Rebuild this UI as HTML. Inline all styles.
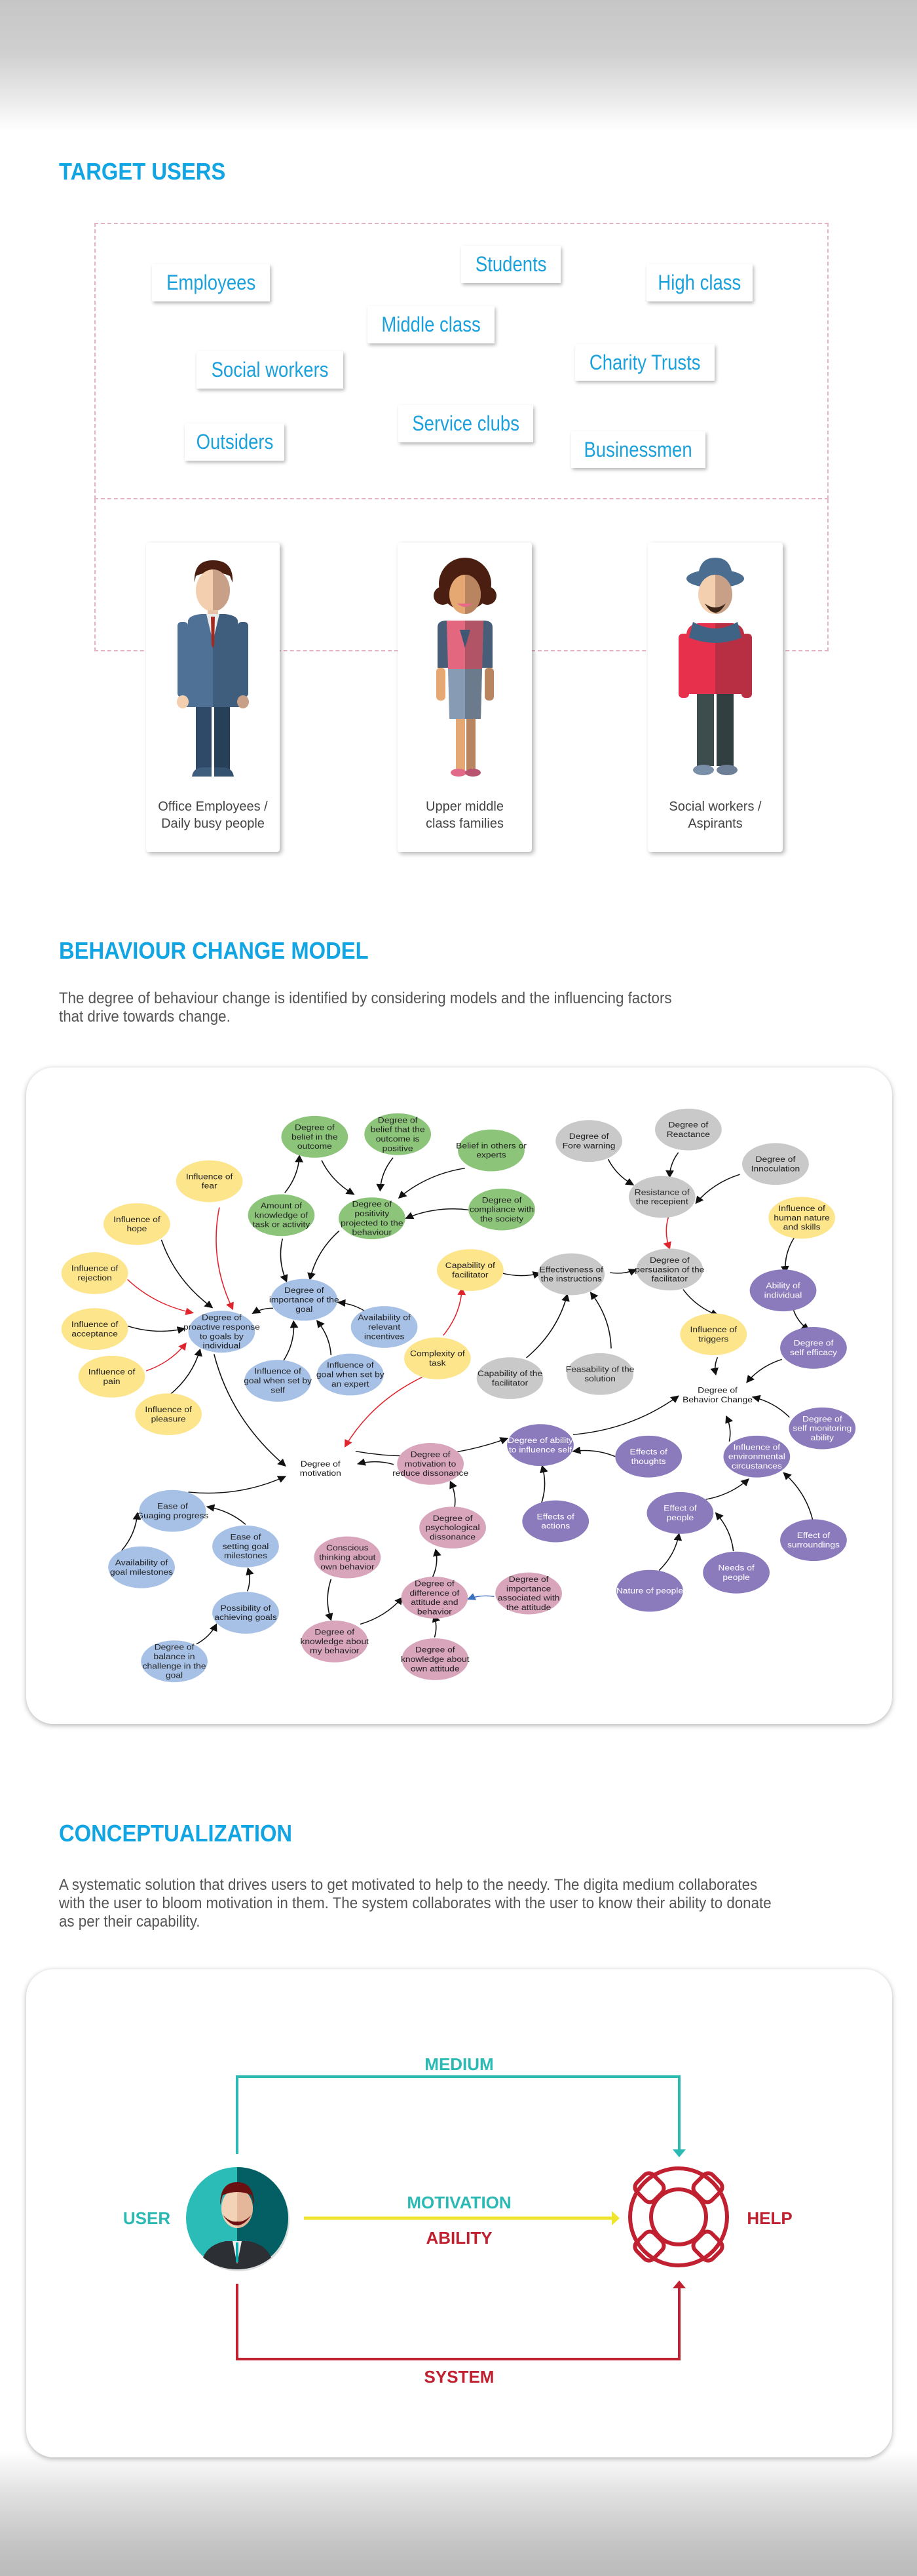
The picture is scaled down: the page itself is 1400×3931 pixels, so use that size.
<!DOCTYPE html>
<html><head><meta charset="utf-8"><title>Target users, behaviour change model and conceptualization</title>
<style>
*{box-sizing:border-box;margin:0;padding:0}
body{width:1400px;height:3931px;position:relative;background:#fff;font-family:"Liberation Sans",sans-serif;overflow:hidden}
.abs{position:absolute}
.h{position:absolute;left:90px;color:#12a5e4;font-weight:bold;font-size:36px;transform:scaleX(0.91);transform-origin:left center;white-space:nowrap;line-height:40px}
.para{position:absolute;left:90px;color:#555;font-size:24px;line-height:28px;transform:scaleX(0.93);transform-origin:left top;white-space:nowrap}
.tag{position:absolute;background:#fff;box-shadow:2px 3px 5px rgba(0,0,0,.28);color:#1ba1dc;font-size:32px;display:flex;align-items:center;justify-content:center;white-space:nowrap}
.tag span{transform:scaleX(.86);display:inline-block}
.card{position:absolute;background:#fff;box-shadow:3px 3px 7px rgba(0,0,0,.3);border-radius:4px}
.cap{position:absolute;left:0;right:0;text-align:center;color:#444;font-size:20px;line-height:26px}
.big{position:absolute;left:40px;width:1322px;background:#fff;border-radius:42px;box-shadow:0 2px 8px rgba(0,0,0,.3)}
</style></head>
<body>
<div class="abs" style="left:0;top:0;width:1400px;height:200px;background:linear-gradient(180deg,#c6c6c6 0%,#cfcfcf 40%,#e6e6e6 70%,#fff 100%)"></div>
<div class="abs" style="left:0;top:3740px;width:1400px;height:191px;background:linear-gradient(180deg,#fff 0%,#e0e0e0 35%,#c4c4c4 75%,#bbb 100%)"></div>

<div class="h" style="top:242px">TARGET USERS</div>
<div class="abs" style="left:144px;top:340px;width:1121px;height:422px;border:2px dashed #e3b4c6"></div>
<div class="abs" style="left:144px;top:762px;width:2px;height:232px;border-left:2px dashed #e3b4c6"></div>
<div class="abs" style="left:1263px;top:762px;width:2px;height:232px;border-left:2px dashed #e3b4c6"></div>
<div class="abs" style="left:144px;top:992px;width:1121px;height:2px;border-top:2px dashed #e3b4c6"></div>

<div class="tag" style="left:232px;top:403px;width:180px;height:57px"><span>Employees</span></div>
<div class="tag" style="left:704px;top:375px;width:152px;height:57px"><span>Students</span></div>
<div class="tag" style="left:987px;top:403px;width:162px;height:57px"><span>High class</span></div>
<div class="tag" style="left:561px;top:467px;width:194px;height:57px"><span>Middle class</span></div>
<div class="tag" style="left:300px;top:536px;width:224px;height:57px"><span>Social workers</span></div>
<div class="tag" style="left:878px;top:525px;width:213px;height:56px"><span>Charity Trusts</span></div>
<div class="tag" style="left:608px;top:618px;width:206px;height:57px"><span>Service clubs</span></div>
<div class="tag" style="left:282px;top:646px;width:152px;height:57px"><span>Outsiders</span></div>
<div class="tag" style="left:872px;top:658px;width:205px;height:56px"><span>Businessmen</span></div>

<!-- persona cards -->
<div class="card" style="left:223px;top:828px;width:204px;height:472px">
<svg class="abs" style="left:42px;top:21px" width="120" height="340" viewBox="0 0 120 340">
<path d="M32 40 Q30 6 60 6 Q92 6 90 40 L86 30 Q60 18 34 30Z" fill="#4a1f12"/>
<ellipse cx="60" cy="52" rx="26" ry="32" fill="#f3cfb0"/><path d="M60 20 A26 32 0 0 1 60 84Z" fill="#c8a088"/>
<rect x="52" y="82" width="16" height="12" fill="#e8c2a4"/>
<path d="M22 98 Q24 90 42 88 L78 88 Q96 90 98 98 L104 230 L16 230Z" fill="#4f7196"/><path d="M60 88 L78 88 Q96 90 98 98 L104 230 L60 230Z" fill="#3f5d7c"/>
<path d="M50 88 L60 130 L70 88Z" fill="#e9e9e9"/><path d="M57 92 L63 92 L62 135 L60 140 L58 135Z" fill="#a3281d"/>
<rect x="6" y="100" width="16" height="115" rx="6" fill="#4f7196"/><rect x="98" y="100" width="16" height="115" rx="6" fill="#3f5d7c"/>
<ellipse cx="14" cy="222" rx="9" ry="10" fill="#f3cfb0"/><ellipse cx="106" cy="222" rx="9" ry="10" fill="#c8a088"/>
<rect x="34" y="230" width="24" height="95" fill="#2f4a68"/><rect x="62" y="230" width="24" height="95" fill="#27405a"/>
<path d="M28 336 Q30 322 46 322 L58 322 L58 336Z" fill="#3f5d7c"/><path d="M62 322 L74 322 Q90 322 92 336 L62 336Z" fill="#355170"/>
</svg>
<div class="cap" style="top:390px">Office Employees /<br>Daily busy people</div>
</div>
<div class="card" style="left:607px;top:828px;width:205px;height:472px">
<svg class="abs" style="left:43px;top:21px" width="120" height="340" viewBox="0 0 120 340">
<circle cx="60" cy="42" r="40" fill="#4a1f12"/><circle cx="26" cy="60" r="14" fill="#4a1f12"/><circle cx="94" cy="60" r="14" fill="#4a1f12"/>
<ellipse cx="60" cy="58" rx="24" ry="30" fill="#e6a872"/><path d="M60 28 A24 30 0 0 1 60 88Z" fill="#b98560"/>
<path d="M48 72 Q60 82 72 72Z" fill="#e76a8a"/>
<path d="M18 108 Q18 98 32 98 L88 98 Q102 98 102 108 L102 170 L18 170Z" fill="#475d78"/>
<path d="M32 98 L88 98 L86 172 L34 172Z" fill="#e3677e"/><path d="M60 98 L88 98 L86 172 L60 172Z" fill="#b05466"/>
<path d="M52 112 L68 112 L60 140Z" fill="#3e5773"/>
<path d="M34 172 L86 172 L84 248 L36 248Z" fill="#879bb5"/><path d="M60 172 L86 172 L84 248 L60 248Z" fill="#6c7a8d"/>
<rect x="16" y="170" width="14" height="50" rx="6" fill="#e6a872"/><rect x="90" y="170" width="14" height="50" rx="6" fill="#b98560"/>
<rect x="46" y="248" width="14" height="78" fill="#e6a872"/><rect x="62" y="248" width="14" height="78" fill="#b98560"/>
<ellipse cx="50" cy="330" rx="12" ry="6" fill="#e06a88"/><ellipse cx="72" cy="330" rx="12" ry="6" fill="#b85470"/>
</svg>
<div class="cap" style="top:390px">Upper middle<br>class families</div>
</div>
<div class="card" style="left:989px;top:828px;width:206px;height:472px">
<svg class="abs" style="left:43px;top:21px" width="120" height="340" viewBox="0 0 120 340">
<path d="M34 30 Q36 2 60 2 Q84 2 86 30Z" fill="#4b6d90"/><ellipse cx="60" cy="34" rx="44" ry="14" fill="#4b6d90"/>
<ellipse cx="60" cy="58" rx="26" ry="30" fill="#f3cfb0"/><path d="M60 28 A26 30 0 0 1 60 88Z" fill="#c8a088"/>
<path d="M44 72 Q60 100 76 72 Q60 84 44 72Z" fill="#3a2418"/>
<path d="M16 118 Q18 104 34 102 L86 102 Q102 104 104 118 L106 210 L14 210Z" fill="#e6304c"/><path d="M60 102 L86 102 Q102 104 104 118 L106 210 L60 210Z" fill="#b82f44"/>
<path d="M26 100 Q60 120 94 100 L100 124 Q60 140 20 124Z" fill="#3e6385"/>
<rect x="4" y="118" width="16" height="98" rx="6" fill="#e6304c"/><rect x="100" y="118" width="16" height="98" rx="6" fill="#b82f44"/>
<rect x="32" y="210" width="26" height="110" fill="#3d4d4e"/><rect x="62" y="210" width="26" height="110" fill="#313f40"/>
<ellipse cx="42" cy="326" rx="16" ry="8" fill="#7a8fa8"/><ellipse cx="78" cy="326" rx="16" ry="8" fill="#6c7f96"/>
</svg>
<div class="cap" style="top:390px">Social workers /<br>Aspirants</div>
</div>

<!-- behaviour change model -->
<div class="h" style="top:1431px">BEHAVIOUR CHANGE MODEL</div>
<div class="para" style="top:1510px">The degree of behaviour change is identified by considering models and the influencing factors<br>that drive towards change.</div>
<div class="big" style="top:1629px;height:1002px"></div>
<svg id="graph" class="abs" style="left:0;top:1400px" width="1400" height="1250" viewBox="0 0 1568 1568" preserveAspectRatio="none">
<defs>
<marker id="ak" markerWidth="8" markerHeight="8" refX="7" refY="4" orient="auto"><path d="M0,0 L8,4 L0,8Z" fill="#111"/></marker>
<marker id="ar" markerWidth="8" markerHeight="8" refX="7" refY="4" orient="auto"><path d="M0,0 L8,4 L0,8Z" fill="#e0242e"/></marker>
<marker id="ab" markerWidth="8" markerHeight="8" refX="7" refY="4" orient="auto"><path d="M0,0 L8,4 L0,8Z" fill="#3a6fc0"/></marker>
</defs>
</svg>
<script>
const nodeX=[538,680,840,481,636,858,358,234,162,162,191,288,804,748,1220,1371,379,520,657,475,599,295,420,242,420,298,1007,1177,1326,1132,977,1145,872,1026,1339,1391,1406,924,1109,1294,950,1163,1391,1259,1111,736,774,594,743,904,572,744,548,1227];
const nodeY=[420,415,446,570,576,559,505,587,681,788,879,951,675,844,798,575,793,732,784,887,875,1136,1204,1244,1331,1424,428,406,472,535,683,674,882,874,714,824,978,1010,1032,1032,1156,1140,1192,1254,1289,1046,1168,1225,1302,1294,1386,1420,1055,914];
const nodeKind=["g","g","g","g","g","g","y","y","y","y","y","y","y","y","y","y","b","b","b","b","b","b","b","b","b","b","k","k","k","k","k","k","k","k","p","p","p","p","p","p","p","p","p","p","p","m","m","m","m","m","m","m","t","t"];
const nodeText=["Degree of|belief in the|outcome","Degree of|belief that the|outcome is|positive","Belief in others or|experts","Amount of|knowledge of|task or activity","Degree of|positivity|projected to the|behaviour","Degree of|compliance with|the society","Influence of|fear","Influence of|hope","Influence of|rejection","Influence of|acceptance","Influence of|pain","Influence of|pleasure","Capability of|facilitator","Complexity of|task","Influence of|triggers","Influence of|human nature|and skills","Degree of|proactive response|to goals by|individual","Degree of|importance of the|goal","Availability of|relevant|incentives","Influence of|goal when set by|self","Influence of|goal when set by|an expert","Ease of|Guaging progress","Ease of|setting goal|milestones","Availability of|goal milestones","Possibility of|achieving goals","Degree of|balance in|challenge in the|goal","Degree of|Fore warning","Degree of|Reactance","Degree of|Innoculation","Resistance of|the recepient","Effectiveness of|the instructions","Degree of|persuasion of the|facilitator","Capability of the|facilitator","Feasability of the|solution","Ability of|individual","Degree of|self efficacy","Degree of|self monitoring|ability","Degree of ability|to influence self","Effects of|thoughts","Influence of|environmental|circustances","Effects of|actions","Effect of|people","Effect of|surroundings","Needs of|people","Nature of people","Degree of|motivation to|reduce dissonance","Degree of|psychological|dissonance","Conscious|thinking about|own behavior","Degree of|difference of|attitude and|behavior","Degree of|importance|associated with|the attitude","Degree of|knowledge about|my behavior","Degree of|knowledge about|own attitude","Degree of|motivation","Degree of|Behavior Change"];
const edgeFromX=[487,550,672,795,803,483,580,276,218,290,467,630,485,566,366,322,608,673,777,740,566,616,743,208,420,423,336,855,900,1045,1043,1040,1160,1265,1168,1227,980,1052,924,1358,1357,1337,1350,1247,1207,1390,1127,1254,375,218,250,1143,758,722,845];
const edgeFromY=[527,465,460,480,560,615,600,617,782,914,748,758,848,838,836,1100,1022,1047,1132,1262,1267,1353,1378,1212,1162,1290,1391,680,843,825,680,463,450,492,712,842,990,1032,1127,613,752,846,957,1003,1114,1155,1250,1213,555,693,868,573,800,880,1300];
const edgeToX=[512,605,650,682,694,490,530,363,316,342,432,578,502,542,488,488,868,612,770,745,566,688,742,235,354,424,370,924,970,1010,1088,1083,1145,1190,1228,1224,1160,980,927,1343,1383,1277,1287,1242,1280,1340,1161,1224,398,330,318,1145,790,590,800];
const edgeToY=[456,530,523,537,576,697,693,747,787,827,758,737,773,772,1050,1070,997,1046,1080,1210,1345,1302,1336,1140,1128,1246,1353,681,722,718,674,512,497,547,762,875,916,1022,1050,680,790,890,918,955,1075,1063,1180,1140,750,757,815,634,710,1013,1305];
const edgeColor=["k","k","k","k","k","k","k","k","k","k","k","k","k","k","k","k","k","k","k","k","k","k","k","k","k","k","k","k","k","k","k","k","k","k","k","k","k","k","k","k","k","k","k","k","k","k","k","k","r","r","r","r","r","r","b"];
const fills={g:"#8cc47a",y:"#fde58c",b:"#a7c1e6",k:"#c9c9c9",p:"#8b7bbd",m:"#d8a5bb",t:"none"};
const textCol={g:"#222",y:"#222",b:"#222",k:"#222",p:"#fff",m:"#222",t:"#111"};
const strokes={k:"#111",r:"#e0242e",b:"#3a6fc0"};
const NS="http://www.w3.org/2000/svg";
const g=document.getElementById("graph");
for(let i=0;i<edgeFromX.length;i++){
  const x1=edgeFromX[i],y1=edgeFromY[i],x2=edgeToX[i],y2=edgeToY[i];
  const mx=(x1+x2)/2,my=(y1+y2)/2,dx=x2-x1,dy=y2-y1;
  const cx=mx-dy*0.15,cy=my+dx*0.15;
  const p=document.createElementNS(NS,"path");
  p.setAttribute("d",`M${x1},${y1} Q${cx},${cy} ${x2},${y2}`);
  p.setAttribute("fill","none");
  p.setAttribute("stroke",strokes[edgeColor[i]]);
  p.setAttribute("stroke-width","1.8");
  p.setAttribute("marker-end",`url(#a${edgeColor[i]})`);
  
  
  g.appendChild(p);
}
for(let i=0;i<nodeX.length;i++){
  const k=nodeKind[i];
  const grp=document.createElementNS(NS,"g");
  
  
  if(k!=="t"){
    const e=document.createElementNS(NS,"ellipse");
    e.setAttribute("cx",nodeX[i]);e.setAttribute("cy",nodeY[i]);
    e.setAttribute("rx",57);e.setAttribute("ry",40);
    e.setAttribute("fill",fills[k]);
    
    
    grp.appendChild(e);
  }
  const lines=nodeText[i].split("|");
  const t=document.createElementNS(NS,"text");
  t.setAttribute("text-anchor","middle");
  t.setAttribute("font-size","15.5");
  t.setAttribute("font-family","Liberation Sans, sans-serif");
  t.setAttribute("fill",textCol[k]);
  
  
  lines.forEach((l,j)=>{
    const s=document.createElementNS(NS,"tspan");
    s.setAttribute("x",nodeX[i]);
    s.setAttribute("y",nodeY[i]+(j-(lines.length-1)/2)*18+5);
    s.textContent=l;
    t.appendChild(s);
  });
  grp.appendChild(t);
  g.appendChild(grp);
}
</script>

<!-- conceptualization -->
<div class="h" style="top:2778px">CONCEPTUALIZATION</div>
<div class="para" style="top:2863px">A systematic solution that drives users to get motivated to help to the needy. The digita medium collaborates<br>with the user to bloom motivation in them. The system collaborates with the user to know their ability to donate<br>as per their capability.</div>
<div class="big" style="top:3005px;height:745px"></div>
<svg class="abs" style="left:0;top:3005px" width="1400" height="745" viewBox="0 3005 1400 745" font-family="Liberation Sans, sans-serif" font-weight="bold">
<path d="M362 3287 L362 3169 L1037 3169 L1037 3282" fill="none" stroke="#2bb9b4" stroke-width="4"/>
<path d="M1027 3280 L1047 3280 L1037 3292Z" fill="#2bb9b4"/>
<text x="701" y="3159" text-anchor="middle" font-size="26" fill="#2bb9b4">MEDIUM</text>
<path d="M362 3485 L362 3600 L1037 3600 L1037 3490" fill="none" stroke="#c0202f" stroke-width="4"/>
<path d="M1027 3492 L1047 3492 L1037 3480Z" fill="#c0202f"/>
<text x="701" y="3636" text-anchor="middle" font-size="26" fill="#c0202f">SYSTEM</text>
<line x1="464" y1="3385" x2="936" y2="3385" stroke="#efe52c" stroke-width="5"/>
<path d="M934 3374 L946 3385 L934 3396Z" fill="#efe52c"/>
<text x="701" y="3370" text-anchor="middle" font-size="26" fill="#2bb9b4">MOTIVATION</text>
<text x="701" y="3424" text-anchor="middle" font-size="26" fill="#c0202f">ABILITY</text>
<text x="224" y="3394" text-anchor="middle" font-size="26" fill="#2bb9b4">USER</text>
<text x="1175" y="3394" text-anchor="middle" font-size="26" fill="#c0202f">HELP</text>
<g>
<circle cx="364" cy="3388" r="78" fill="#bbb" opacity=".5"/>
<circle cx="362" cy="3385" r="78" fill="#2bbcb7"/><path d="M362 3307 A78 78 0 0 1 362 3463Z" fill="#035f63"/>
<path d="M310 3445 Q318 3425 345 3420 L379 3420 Q406 3425 414 3445 Q392 3463 362 3463 Q332 3463 310 3445Z" fill="#2c3034"/>
<path d="M355 3420 L369 3420 L362 3455Z" fill="#eee"/><rect x="360" y="3422" width="4" height="30" fill="#1aa"/>
<ellipse cx="362" cy="3370" rx="24" ry="30" fill="#f2d3b8"/><path d="M362 3340 A24 30 0 0 1 362 3400Z" fill="#e5b79a"/>
<path d="M336 3365 Q336 3330 362 3330 Q388 3330 388 3365 L384 3350 Q362 3340 340 3350Z" fill="#6b1010"/>
<path d="M340 3380 Q362 3412 384 3380 Q372 3392 362 3390 Q352 3392 340 3380Z" fill="#6b1010"/>
</g>
<g fill="none" stroke="#c0202f" stroke-width="6">
<circle cx="1036" cy="3383" r="74"/><circle cx="1036" cy="3383" r="42"/>
<g transform="rotate(45 1036 3383)">
<rect x="1018" y="3301" width="36" height="38" rx="10"/><rect x="1018" y="3427" width="36" height="38" rx="10"/>
<rect x="954" y="3365" width="38" height="36" rx="10"/><rect x="1080" y="3365" width="38" height="36" rx="10"/>
</g>
</g>
</svg>
</body></html>
